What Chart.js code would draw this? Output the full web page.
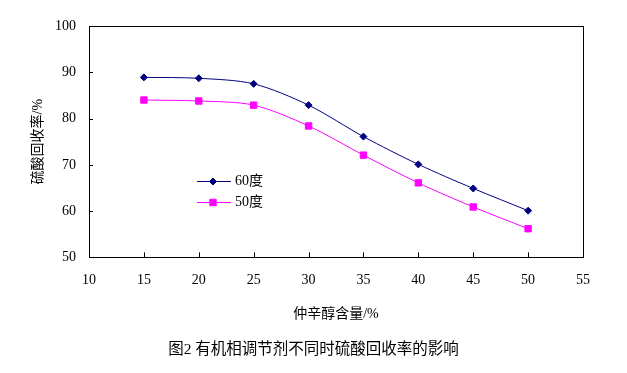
<!DOCTYPE html>
<html>
<head>
<meta charset="utf-8">
<script src="https://cdn.jsdelivr.net/npm/chart.js@4/dist/chart.umd.min.js"></script>
<style>
html,body{margin:0;padding:0;background:#fff;}
#wrap{width:627px;height:373px;position:relative;}
</style>
</head>
<body>
<div id="wrap"><canvas id="c" width="627" height="373"></canvas></div>
<script>
// ---- data ----
const xValues = [15, 20, 25, 30, 35, 40, 45, 50];
const series60 = [88.9, 88.7, 87.5, 82.9, 76.1, 70.1, 64.9, 60.1];
const series50 = [84.0, 83.8, 82.9, 78.4, 72.1, 66.1, 60.9, 56.2];
const seriesNames = ['60度', '50度'];
const xTitle = '仲辛醇含量/%';
const yTitle = '硫酸回收率/%';
const chartTitle = '图2 有机相调节剂不同时硫酸回收率的影响';

const FONT = "'Liberation Serif', 'Noto Sans CJK SC', serif";

const toPts = (xs, ys) => xs.map((x, i) => ({x: x, y: ys[i]}));

const chart = new Chart(document.getElementById('c'), {
  type: 'line',
  data: {
    datasets: [
      {
        label: seriesNames[0],
        data: toPts(xValues, series60),
        borderColor: '#000080',
        backgroundColor: '#000080',
        pointBackgroundColor: '#000080',
        pointBorderColor: '#000080',
        pointStyle: 'rectRot',
        pointRadius: 3.5,
        pointBorderWidth: 1,
        borderWidth: 1,
        tension: 0.3,
        fill: false
      },
      {
        label: seriesNames[1],
        data: toPts(xValues, series50),
        borderColor: '#FF00FF',
        backgroundColor: '#FF00FF',
        pointBackgroundColor: '#FF00FF',
        pointBorderColor: '#FF00FF',
        pointStyle: 'rect',
        pointRadius: 4.5,
        pointBorderWidth: 1,
        borderWidth: 1,
        tension: 0.3,
        fill: false
      }
    ]
  },
  options: {
    responsive: false,
    animation: false,
    devicePixelRatio: 1,
    layout: { padding: { left: 0, right: 0, top: 26, bottom: 0 } },
    plugins: {
      legend: { display: false },
      tooltip: { enabled: false },
      title: {
        display: true,
        position: 'bottom',
        text: chartTitle,
        color: '#000',
        font: { family: FONT, size: 15.5, weight: 'normal' },
        padding: { top: 0, bottom: 14 }
      }
    },
    scales: {
      x: {
        type: 'linear',
        min: 10, max: 55,
        border: { display: false },
        grid: { display: false, drawTicks: false },
        ticks: { stepSize: 5, color: '#000', padding: 15, font: { family: FONT, size: 14 } },
        title: {
          display: true, text: xTitle, color: '#000',
          font: { family: FONT, size: 14 }, padding: { top: 0, bottom: 17.6 }
        },
        afterFit(s) { s.height = 83; }
      },
      y: {
        min: 50, max: 100,
        border: { display: false },
        grid: { display: false, drawTicks: false },
        ticks: { stepSize: 10, color: '#000', padding: 13, font: { family: FONT, size: 14 } },
        title: {
          display: true, text: yTitle, color: '#000',
          font: { family: FONT, size: 14 }, padding: { top: 30, bottom: 0 }
        },
        afterFit(s) { s.width = 89; }
      },
      yRight: {
        type: 'linear',
        position: 'right',
        display: true,
        min: 50, max: 100,
        border: { display: false },
        grid: { display: false, drawTicks: false },
        ticks: { display: false },
        afterFit(s) { s.width = 44; }
      }
    }
  },
  plugins: [{
    id: 'legendDraw',
    afterDraw(chart) {
      const ctx = chart.ctx;
      const lx0 = 197, lx1 = 231, mx = 213, tx = 235;
      const rows = [181, 202];
      ctx.save();
      chart.data.datasets.forEach((ds, i) => {
        const y = rows[i] + 0.5;
        ctx.strokeStyle = ds.borderColor;
        ctx.lineWidth = 1;
        ctx.beginPath();
        ctx.moveTo(lx0, y);
        ctx.lineTo(lx1, y);
        ctx.stroke();
        ctx.fillStyle = ds.pointBackgroundColor;
        ctx.strokeStyle = ds.pointBorderColor;
        Chart.helpers.drawPoint(ctx, {
          pointStyle: ds.pointStyle, radius: ds.pointRadius, borderWidth: ds.pointBorderWidth, rotation: 0
        }, mx, y);
        ctx.fillStyle = '#000';
        ctx.font = '14px ' + FONT;
        ctx.textBaseline = 'middle';
        ctx.textAlign = 'left';
        ctx.fillText(ds.label, tx, y);
      });
      ctx.restore();
    }
  }, {
    id: 'boxTicks',
    afterDraw(chart) {
      const ctx = chart.ctx;
      const a = chart.chartArea;
      const xs = chart.scales.x, ys = chart.scales.y;
      ctx.save();
      ctx.strokeStyle = '#000';
      ctx.lineWidth = 1;
      ctx.strokeRect(Math.round(a.left) + 0.5, Math.round(a.top) + 0.5,
                     Math.round(a.right - a.left), Math.round(a.bottom - a.top));
      ctx.beginPath();
      xs.ticks.forEach(t => {
        const px = Math.round(xs.getPixelForValue(t.value)) + 0.5;
        ctx.moveTo(px, a.bottom);
        ctx.lineTo(px, a.bottom - 5);
      });
      ys.ticks.forEach(t => {
        const py = Math.round(ys.getPixelForValue(t.value)) + 0.5;
        ctx.moveTo(a.left, py);
        ctx.lineTo(a.left + 4, py);
      });
      ctx.stroke();
      ctx.restore();
    }
  }]
});
</script>
</body>
</html>
